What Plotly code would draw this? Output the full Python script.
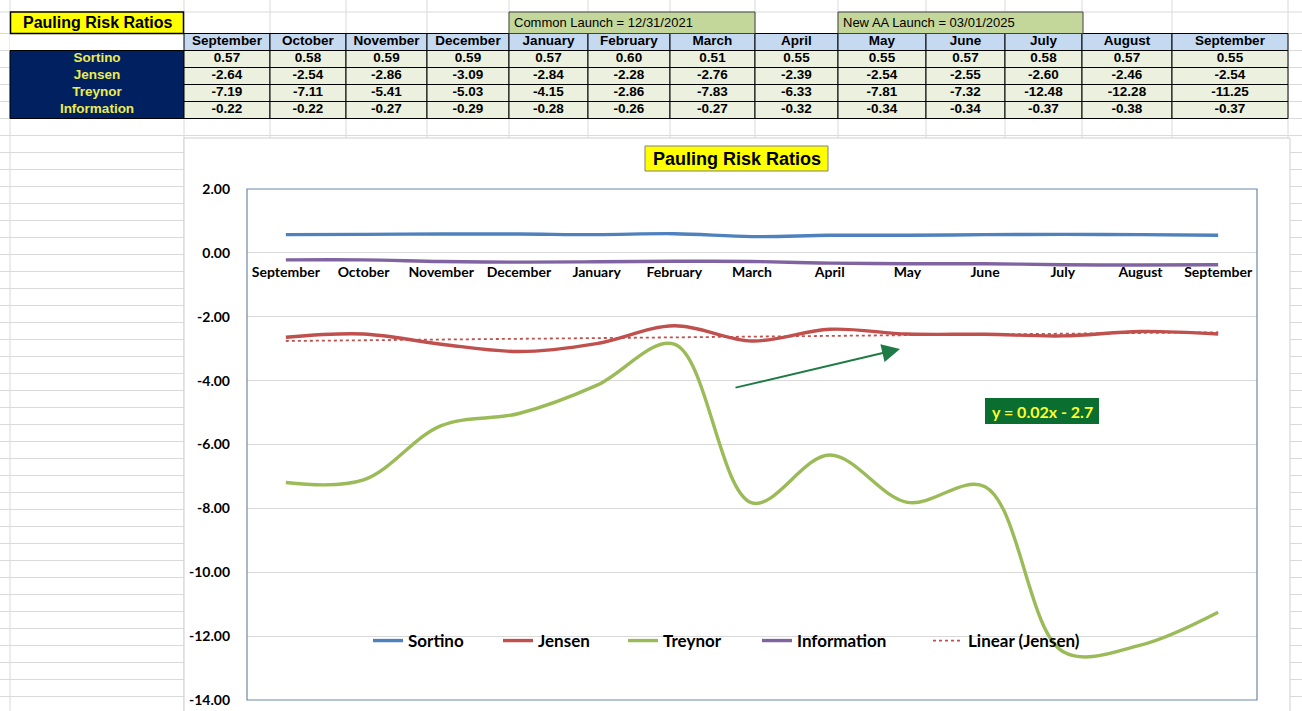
import numpy as np
import plotly.graph_objects as go

W, H = 1302, 711

# ---- data ----
months = ["September", "October", "November", "December", "January", "February",
          "March", "April", "May", "June", "July", "August", "September"]
sortino = [0.57, 0.58, 0.59, 0.59, 0.57, 0.60, 0.51, 0.55, 0.55, 0.57, 0.58, 0.57, 0.55]
jensen = [-2.64, -2.54, -2.86, -3.09, -2.84, -2.28, -2.76, -2.39, -2.54, -2.55, -2.60, -2.46, -2.54]
treynor = [-7.19, -7.11, -5.41, -5.03, -4.15, -2.86, -7.83, -6.33, -7.81, -7.32, -12.48, -12.28, -11.25]
information = [-0.22, -0.22, -0.27, -0.29, -0.28, -0.26, -0.27, -0.32, -0.34, -0.34, -0.37, -0.38, -0.37]
ratio_names = ["Sortino", "Jensen", "Treynor", "Information"]
y_ticks = [2, 0, -2, -4, -6, -8, -10, -12, -14]
sheet_title = "Pauling Risk Ratios"
launch_notes = ["Common Launch = 12/31/2021", "New AA Launch = 03/01/2025"]
trend_label = "y = 0.02x - 2.7"

# colours / fonts
NAVY = "#002060"
YEL_TXT = "#ECEC50"
HDR = "#C5D9F1"
CELL = "#EBF1DE"
OLIVE = "#C4D79B"
GRID = "#DADADA"
ARIAL = "Liberation Sans, Arial, sans-serif"
CAL = "Lato, Carlito, Calibri, sans-serif"


def px(x):
    return x / W


def py(y):
    return 1 - y / H


# sheet geometry (pixels of the 1302x711 page)
col_edges = [10, 184, 270, 346, 427, 509, 588, 670, 755, 838, 926, 1005, 1082, 1172, 1288]
hdr_top, row_h = 33.5, 17
row_edges = [hdr_top + row_h * k for k in range(6)]
col_mid = [(a + b) / 2 for a, b in zip(col_edges, col_edges[1:])]
row_mid = [(a + b) / 2 for a, b in zip(row_edges, row_edges[1:])]

fig = go.Figure()

# ---- chart ----
x_idx = list(range(len(months)))
coef = np.polyfit(x_idx, jensen, 1)
trend = np.polyval(coef, x_idx)

styles = [("Sortino", sortino, "#4F81BD"), ("Jensen", jensen, "#C0504D"),
          ("Treynor", treynor, "#9BBB59"), ("Information", information, "#8064A2")]
legend_ids = ["legend", "legend2", "legend3", "legend4", "legend5"]
for k, (name, vals, col) in enumerate(styles):
    fig.add_trace(go.Scatter(x=x_idx, y=vals, name=name, mode="lines",
                             line=dict(color=col, width=3.4, shape="spline"),
                             legend=legend_ids[k]))
fig.add_trace(go.Scatter(x=x_idx, y=trend, name="Linear (Jensen)", mode="lines",
                         line=dict(color="#C0504D", width=1.8, dash="dot"),
                         legend=legend_ids[4]))

# ---- table text, placed on a pixel-scaled overlay axis ----
series = [sortino, jensen, treynor, information]
tx, ty, tt, tc = [], [], [], []
for c, m in enumerate(months):
    tx.append(col_mid[c + 1]); ty.append(row_mid[0]); tt.append("<b>%s</b>" % m); tc.append("black")
for r, n in enumerate(ratio_names):
    tx.append(col_mid[0]); ty.append(row_mid[r + 1]); tt.append("<b>%s</b>" % n); tc.append(YEL_TXT)
    for c in range(len(months)):
        tx.append(col_mid[c + 1]); ty.append(row_mid[r + 1])
        tt.append("<b>%.2f</b>" % series[r][c]); tc.append("black")
fig.add_trace(go.Scatter(x=tx, y=ty, text=tt, mode="text", textposition="middle center",
                         textfont=dict(family=ARIAL, size=13.5, color=tc),
                         xaxis="x2", yaxis="y2", showlegend=False, hoverinfo="skip"))

y0, y1 = py(700), py(189)
zero_pos = y0 + (0 - y_ticks[-1]) / (y_ticks[0] - y_ticks[-1]) * (y1 - y0)

shapes = []
# excel cell gridlines
for x in col_edges:
    shapes.append(dict(type="line", xref="paper", yref="paper", x0=px(x), x1=px(x), y0=0, y1=1,
                       line=dict(color=GRID, width=1), layer="below"))
grid_rows = [12] + [hdr_top + row_h * k for k in range(45) if hdr_top + row_h * k < H]
for y in grid_rows:
    shapes.append(dict(type="line", xref="paper", yref="paper", x0=0, x1=1, y0=py(y), y1=py(y),
                       line=dict(color=GRID, width=1), layer="below"))
# table cells
shapes.append(dict(type="rect", xref="paper", yref="paper", x0=px(col_edges[0]), x1=px(col_edges[1]),
                   y0=py(row_edges[1]), y1=py(row_edges[0]), fillcolor="white",
                   line=dict(width=0), layer="below"))
shapes.append(dict(type="rect", xref="paper", yref="paper", x0=px(col_edges[0]), x1=px(col_edges[1]),
                   y0=py(row_edges[-1]), y1=py(row_edges[1]), fillcolor=NAVY,
                   line=dict(color="black", width=1), layer="below"))
for c in range(1, len(col_edges) - 1):
    for r in range(len(row_edges) - 1):
        shapes.append(dict(type="rect", xref="paper", yref="paper",
                           x0=px(col_edges[c]), x1=px(col_edges[c + 1]),
                           y0=py(row_edges[r + 1]), y1=py(row_edges[r]),
                           fillcolor=HDR if r == 0 else CELL,
                           line=dict(color="black", width=1), layer="below"))
# chart area
shapes.append(dict(type="rect", xref="paper", yref="paper", x0=px(184), x1=px(1290),
                   y0=py(725), y1=py(138), fillcolor="white", line=dict(color="#CFCFCF", width=1),
                   layer="below"))
# plot border
shapes.append(dict(type="rect", xref="x domain", yref="y domain", x0=0, x1=1, y0=0, y1=1,
                   line=dict(color="#6C89A6", width=1.2), layer="above"))
# sheet title + launch boxes
shapes.append(dict(type="rect", xref="paper", yref="paper", x0=px(10.5), x1=px(183.5),
                   y0=py(33.5), y1=py(12), fillcolor="#FFFF00", line=dict(color="black", width=1.5),
                   layer="below"))
for xa, xb in [(509, 755), (838, 1083)]:
    shapes.append(dict(type="rect", xref="paper", yref="paper", x0=px(xa), x1=px(xb),
                       y0=py(33.5), y1=py(12), fillcolor=OLIVE, line=dict(color="#404040", width=1),
                       layer="below"))
# chart title box
shapes.append(dict(type="rect", xref="paper", yref="paper", x0=px(645), x1=px(828),
                   y0=py(171), y1=py(146), fillcolor="#FFFF00", line=dict(color="#808080", width=1)))
# trend equation box
shapes.append(dict(type="rect", xref="paper", yref="paper", x0=px(985), x1=px(1099),
                   y0=py(424), y1=py(398), fillcolor="#0B6E31", line=dict(width=0)))


def note(x, y, text, font, xanchor="center"):
    return dict(x=px(x), y=py(y), xref="paper", yref="paper", text=text, showarrow=False,
                xanchor=xanchor, yanchor="middle", font=font)


annotations = [
    note(97, 23, "<b>%s</b>" % sheet_title, dict(family=ARIAL, size=16, color="black")),
    note(512, 23, launch_notes[0], dict(family=ARIAL, size=13, color="black"), "left"),
    note(841, 23, launch_notes[1], dict(family=ARIAL, size=13, color="black"), "left"),
    note(736.5, 158.5, "<b>%s</b>" % sheet_title, dict(family=ARIAL, size=18, color="black")),
    note(1042, 411, "<b>%s</b>" % trend_label, dict(family=CAL, size=16, color="#FFFF2E")),
    dict(x=px(900), y=py(349), xref="paper", yref="paper", text="", showarrow=True,
         ax=-166, ay=39, arrowhead=2, arrowsize=1.8, arrowwidth=2, arrowcolor="#1E7B45"),
]

legend_x = [374, 504, 629, 763, 934]
legend_cfg = {}
for lid, lx in zip(legend_ids, legend_x):
    legend_cfg[lid] = dict(x=px(lx - 6), y=py(641), xanchor="left", yanchor="middle",
                           orientation="h", bgcolor="rgba(0,0,0,0)", borderwidth=0,
                           font=dict(family=CAL, size=17, color="black", weight="bold"))

# no fixed width/height: the figure fills the browser window, everything is placed in fractions
fig.update_layout(
    autosize=True, margin=dict(l=0, r=0, t=0, b=0, autoexpand=False),
    paper_bgcolor="white", plot_bgcolor="rgba(0,0,0,0)",
    showlegend=True,
    xaxis=dict(domain=[px(247), px(1257)], range=[-0.5, len(months) - 0.5],
               tickvals=x_idx, ticktext=months, anchor="free", position=zero_pos,
               showgrid=False, zeroline=False, showline=False, ticks="",
               ticklabelstandoff=9, fixedrange=True,
               tickfont=dict(family=CAL, size=14, color="black", weight="bold")),
    yaxis=dict(domain=[y0, y1], range=[y_ticks[-1], y_ticks[0]],
               tickvals=y_ticks, ticktext=["%.2f" % v for v in y_ticks],
               showgrid=True, gridcolor="#D9D9D9", gridwidth=1, zeroline=False,
               showline=False, ticks="", ticklabelstandoff=16, fixedrange=True,
               tickfont=dict(family=CAL, size=14, color="black", weight="bold")),
    xaxis2=dict(domain=[0, 1], range=[0, W], anchor="y2", visible=False, fixedrange=True),
    yaxis2=dict(domain=[0, 1], range=[H, 0], anchor="x2", visible=False, fixedrange=True),
    shapes=shapes,
    annotations=annotations,
    **legend_cfg,
)

fig.write_html("out.html", config={"displayModeBar": False},
               default_width="100vw", default_height="100vh",
               post_script="document.body.style.margin='0';document.body.style.overflow='hidden';")
